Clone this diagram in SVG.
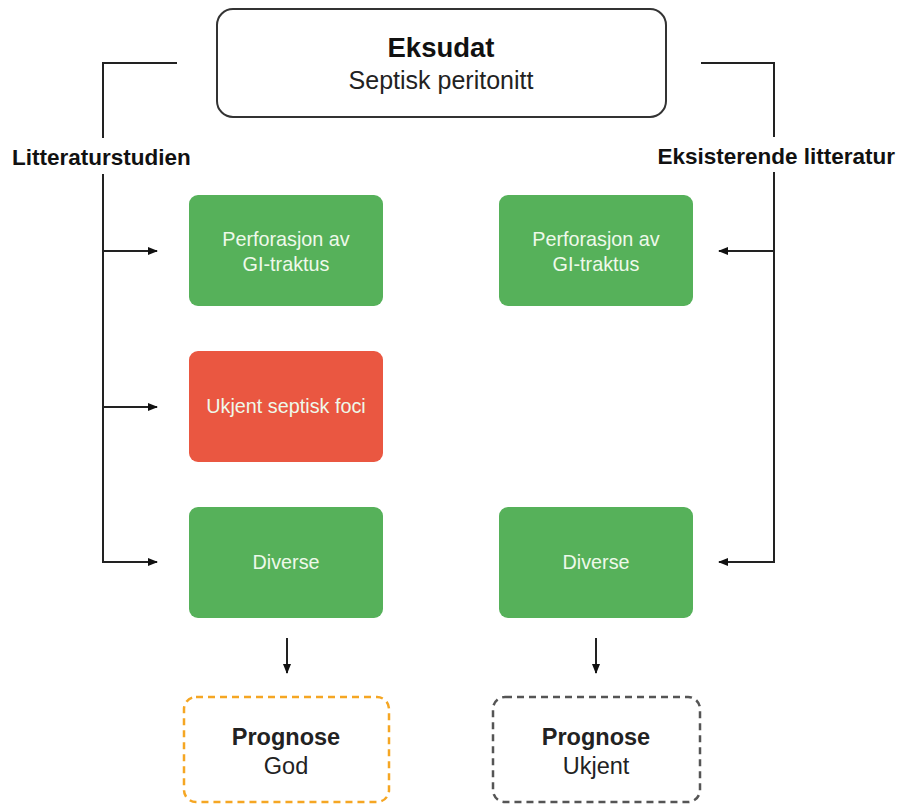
<svg xmlns="http://www.w3.org/2000/svg" width="900" height="805" viewBox="0 0 900 805">
  <style>
    text { font-family: "Liberation Sans", Arial, sans-serif; }
    .title { font-size: 27.5px; font-weight: bold; fill: #111; }
    .sub { font-size: 25px; fill: #222; }
    .side { font-size: 22.5px; font-weight: bold; fill: #111; }
    .box-text { font-size: 19.8px; fill: #eef9ea; }
    .prog { font-size: 23.5px; fill: #222; }
    .green { fill: #56b15a; }
    .red { fill: #ea5741; }
    .line { stroke: #222; stroke-width: 2; fill: none; }
  </style>
  <defs>
    <marker id="arrow" viewBox="0 0 10 10" refX="9" refY="5" markerWidth="10" markerHeight="10" markerUnits="userSpaceOnUse" orient="auto">
      <path d="M0,1 L10,5 L0,9 Z" fill="#111"/>
    </marker>
  </defs>
  <rect width="900" height="805" fill="#fff"/>

  <g id="top">
    <rect x="217" y="9" width="449" height="108" rx="16" fill="#fff" stroke="#333" stroke-width="2"/>
    <text class="title" x="441" y="57" text-anchor="middle">Eksudat</text>
    <text class="sub" x="441" y="89" text-anchor="middle">Septisk peritonitt</text>
  </g>

  <g id="label-left"><text class="side" x="12" y="165">Litteraturstudien</text></g>
  <g id="label-right"><text class="side" x="895" y="164" text-anchor="end">Eksisterende litteratur</text></g>

  <g id="left-perforasjon">
    <rect class="green" x="189" y="195" width="194" height="111" rx="9"/>
    <text class="box-text" x="286" y="246" text-anchor="middle">Perforasjon av</text>
    <text class="box-text" x="286" y="271" text-anchor="middle">GI-traktus</text>
  </g>
  <g id="left-ukjent">
    <rect class="red" x="189" y="351" width="194" height="111" rx="9"/>
    <text class="box-text" x="286" y="413" text-anchor="middle">Ukjent septisk foci</text>
  </g>
  <g id="left-diverse">
    <rect class="green" x="189" y="507" width="194" height="111" rx="9"/>
    <text class="box-text" x="286" y="569" text-anchor="middle">Diverse</text>
  </g>
  <g id="right-perforasjon">
    <rect class="green" x="499" y="195" width="194" height="111" rx="9"/>
    <text class="box-text" x="596" y="246" text-anchor="middle">Perforasjon av</text>
    <text class="box-text" x="596" y="271" text-anchor="middle">GI-traktus</text>
  </g>
  <g id="right-diverse">
    <rect class="green" x="499" y="507" width="194" height="111" rx="9"/>
    <text class="box-text" x="596" y="569" text-anchor="middle">Diverse</text>
  </g>

  <g id="prognose-god">
    <rect x="184" y="697" width="205" height="105" rx="12" fill="#fff" stroke="#f5a623" stroke-width="2.5" stroke-dasharray="7 5"/>
    <text class="prog" x="286" y="745" text-anchor="middle" font-weight="bold" fill="#111">Prognose</text>
    <text class="prog" x="286" y="774" text-anchor="middle">God</text>
  </g>
  <g id="prognose-ukjent">
    <rect x="493" y="697" width="207" height="105" rx="12" fill="#fff" stroke="#555" stroke-width="2.5" stroke-dasharray="7 5"/>
    <text class="prog" x="596" y="745" text-anchor="middle" font-weight="bold" fill="#111">Prognose</text>
    <text class="prog" x="596" y="774" text-anchor="middle">Ukjent</text>
  </g>

  <g id="connectors">
    <!-- left bracket -->
    <path class="line" d="M177,63 H103 V138"/>
    <path class="line" d="M103,174 V562 H157" marker-end="url(#arrow)"/>
    <path class="line" d="M103,251 H157" marker-end="url(#arrow)"/>
    <path class="line" d="M103,407 H157" marker-end="url(#arrow)"/>
    <!-- right bracket -->
    <path class="line" d="M701,63 H774 V137"/>
    <path class="line" d="M774,172 V562 H719" marker-end="url(#arrow)"/>
    <path class="line" d="M774,251 H719" marker-end="url(#arrow)"/>
    <!-- down to prognosis -->
    <path class="line" d="M287,638 V673" marker-end="url(#arrow)"/>
    <path class="line" d="M596,638 V673" marker-end="url(#arrow)"/>
  </g>
</svg>
